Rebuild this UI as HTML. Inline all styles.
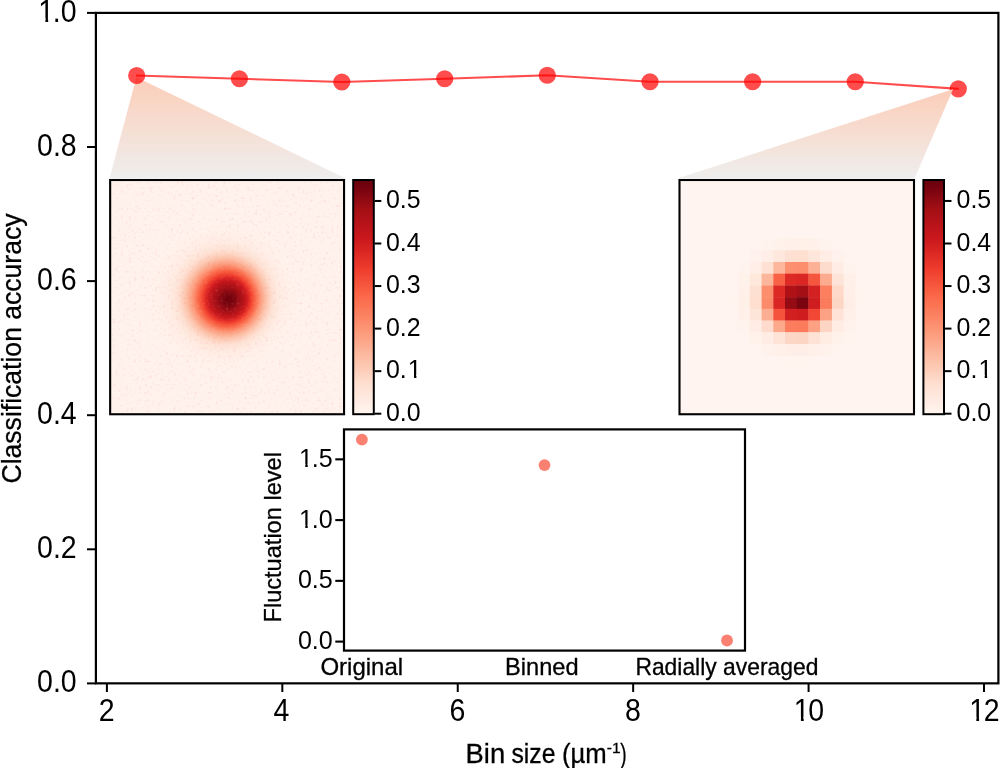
<!DOCTYPE html>
<html lang="en"><head><meta charset="utf-8"><title>Classification accuracy vs bin size</title>
<style>html,body{margin:0;padding:0;background:#fff;}body{width:1000px;height:768px;overflow:hidden;}svg{display:block;}text{font-family:"Liberation Sans",sans-serif;fill:#000;}.lb{stroke:#000;stroke-width:0.3px;}</style></head><body>
<svg width="1000" height="768" viewBox="0 0 1000 768">
<defs>
<linearGradient id="fg1" x1="0" y1="76" x2="0" y2="178" gradientUnits="userSpaceOnUse"><stop offset="0" stop-color="#fbcdb9"/><stop offset="0.45" stop-color="#f7dccf"/><stop offset="1" stop-color="#eeeeee"/></linearGradient>
<linearGradient id="fg2" x1="0" y1="89" x2="0" y2="178" gradientUnits="userSpaceOnUse"><stop offset="0" stop-color="#fbcdb9"/><stop offset="0.45" stop-color="#f7dccf"/><stop offset="1" stop-color="#eeeeee"/></linearGradient>
<linearGradient id="cb" x1="0" y1="1" x2="0" y2="0"><stop offset="0.0000" stop-color="#fff5f0"/><stop offset="0.0312" stop-color="#fff0e8"/><stop offset="0.0625" stop-color="#feeae1"/><stop offset="0.0938" stop-color="#fee5d9"/><stop offset="0.1250" stop-color="#fee0d2"/><stop offset="0.1562" stop-color="#fdd7c6"/><stop offset="0.1875" stop-color="#fdcdb9"/><stop offset="0.2188" stop-color="#fcc4ad"/><stop offset="0.2500" stop-color="#fcbba1"/><stop offset="0.2812" stop-color="#fcb095"/><stop offset="0.3125" stop-color="#fca689"/><stop offset="0.3438" stop-color="#fc9c7d"/><stop offset="0.3750" stop-color="#fc9272"/><stop offset="0.4062" stop-color="#fc8767"/><stop offset="0.4375" stop-color="#fb7d5d"/><stop offset="0.4688" stop-color="#fb7353"/><stop offset="0.5000" stop-color="#fb694a"/><stop offset="0.5312" stop-color="#f85d42"/><stop offset="0.5625" stop-color="#f5523a"/><stop offset="0.5938" stop-color="#f24633"/><stop offset="0.6250" stop-color="#ee3a2c"/><stop offset="0.6562" stop-color="#e53228"/><stop offset="0.6875" stop-color="#dc2924"/><stop offset="0.7188" stop-color="#d32020"/><stop offset="0.7500" stop-color="#ca181d"/><stop offset="0.7812" stop-color="#c1161b"/><stop offset="0.8125" stop-color="#b71319"/><stop offset="0.8438" stop-color="#ad1117"/><stop offset="0.8750" stop-color="#a30f15"/><stop offset="0.9062" stop-color="#940b13"/><stop offset="0.9375" stop-color="#840711"/><stop offset="0.9688" stop-color="#75030f"/><stop offset="1.0000" stop-color="#67000d"/></linearGradient>
<radialGradient id="hm" cx="223" cy="296.2" fx="229" fy="300" r="76" gradientUnits="userSpaceOnUse"><stop offset="0.0000" stop-color="#6d010e"/><stop offset="0.0263" stop-color="#71020e"/><stop offset="0.0526" stop-color="#77040f"/><stop offset="0.0789" stop-color="#7e0610"/><stop offset="0.1053" stop-color="#8a0812"/><stop offset="0.1316" stop-color="#960b13"/><stop offset="0.1579" stop-color="#a30f15"/><stop offset="0.1842" stop-color="#ac1117"/><stop offset="0.2105" stop-color="#b81419"/><stop offset="0.2368" stop-color="#c4161c"/><stop offset="0.2632" stop-color="#d21f20"/><stop offset="0.2895" stop-color="#e12d26"/><stop offset="0.3158" stop-color="#f03d2d"/><stop offset="0.3421" stop-color="#f5523a"/><stop offset="0.3684" stop-color="#f96346"/><stop offset="0.3947" stop-color="#fb7656"/><stop offset="0.4211" stop-color="#fc8969"/><stop offset="0.4474" stop-color="#fc9b7c"/><stop offset="0.4737" stop-color="#fca78b"/><stop offset="0.5000" stop-color="#fcb69b"/><stop offset="0.5263" stop-color="#fcc2aa"/><stop offset="0.5526" stop-color="#fdcbb6"/><stop offset="0.5789" stop-color="#fdd4c2"/><stop offset="0.6053" stop-color="#fedccd"/><stop offset="0.6316" stop-color="#fee2d5"/><stop offset="0.6579" stop-color="#fee5d9"/><stop offset="0.6842" stop-color="#fee8dd"/><stop offset="0.7105" stop-color="#feeae1"/><stop offset="0.7368" stop-color="#ffece3"/><stop offset="0.7632" stop-color="#ffede5"/><stop offset="0.7895" stop-color="#ffeee7"/><stop offset="0.8158" stop-color="#ffefe8"/><stop offset="0.8421" stop-color="#fff0e9"/><stop offset="0.8684" stop-color="#fff1ea"/><stop offset="0.8947" stop-color="#fff2eb"/><stop offset="0.9211" stop-color="#fff2eb"/><stop offset="0.9474" stop-color="#fff2ec"/><stop offset="0.9737" stop-color="#fff2ec"/><stop offset="1.0000" stop-color="#fff2ec"/></radialGradient>
<filter id="nz" x="0" y="0" width="100%" height="100%" color-interpolation-filters="sRGB"><feTurbulence type="fractalNoise" baseFrequency="0.38" numOctaves="1" seed="7" result="t"/><feColorMatrix in="t" type="matrix" values="0 0 0 0 0.9  0 0 0 0 0.25  0 0 0 0 0.2  0.4 0 0 0 -0.225"/></filter>
<filter id="nw" x="0" y="0" width="100%" height="100%" color-interpolation-filters="sRGB"><feTurbulence type="fractalNoise" baseFrequency="0.38" numOctaves="1" seed="23" result="t"/><feColorMatrix in="t" type="matrix" values="0 0 0 0 1  0 0 0 0 0.96  0 0 0 0 0.94  0 0.4 0 0 -0.225"/></filter>
</defs>
<rect width="1000" height="768" fill="#fff"/>
<polygon points="136.4,77.3 109.6,178 344.8,178" fill="url(#fg1)"/>
<polyline points="135.9,75.5 239.4,78.75 341.8,82 444.7,78.75 547.25,75.25 650,81.75 752.6,81.75 855.25,81.75 958.8,88.9" fill="none" stroke="#ff0000" stroke-opacity="0.7" stroke-width="2.1"/>
<circle cx="136.7" cy="75.5" r="8.6" fill="#ff0000" fill-opacity="0.7"/>
<circle cx="239.4" cy="78.75" r="8.6" fill="#ff0000" fill-opacity="0.7"/>
<circle cx="341.8" cy="82" r="8.6" fill="#ff0000" fill-opacity="0.7"/>
<circle cx="444.7" cy="78.75" r="8.6" fill="#ff0000" fill-opacity="0.7"/>
<circle cx="547.25" cy="75.25" r="8.6" fill="#ff0000" fill-opacity="0.7"/>
<circle cx="650" cy="81.75" r="8.6" fill="#ff0000" fill-opacity="0.7"/>
<circle cx="752.6" cy="81.75" r="8.6" fill="#ff0000" fill-opacity="0.7"/>
<circle cx="855.25" cy="81.75" r="8.6" fill="#ff0000" fill-opacity="0.7"/>
<circle cx="958.3" cy="88.9" r="8.6" fill="#ff0000" fill-opacity="0.7"/>
<polygon points="953,89.2 679,178 914.8,178" fill="url(#fg2)"/>
<rect x="110.15" y="180" width="233.9" height="234.25" fill="url(#hm)"/>
<rect x="110.15" y="180" width="233.9" height="234.25" filter="url(#nz)"/>
<rect x="110.15" y="180" width="233.9" height="234.25" filter="url(#nw)"/>
<rect x="110.15" y="180" width="233.9" height="234.25" fill="none" stroke="#000" stroke-width="2.1"/>
<rect x="679.5" y="180" width="234.5" height="234.25" fill="#fff4ef"/>
<rect x="761.58" y="238.56" width="12.03" height="12.01" fill="#fff3ed"/>
<rect x="773.30" y="238.56" width="12.03" height="12.01" fill="#fff2eb"/>
<rect x="785.02" y="238.56" width="12.03" height="12.01" fill="#fff0e9"/>
<rect x="796.75" y="238.56" width="12.03" height="12.01" fill="#fff0e8"/>
<rect x="808.48" y="238.56" width="12.03" height="12.01" fill="#fff1ea"/>
<rect x="820.20" y="238.56" width="12.03" height="12.01" fill="#fff3ed"/>
<rect x="749.85" y="250.28" width="12.03" height="12.01" fill="#fff2ec"/>
<rect x="761.58" y="250.28" width="12.03" height="12.01" fill="#ffeee7"/>
<rect x="773.30" y="250.28" width="12.03" height="12.01" fill="#fee7dc"/>
<rect x="785.02" y="250.28" width="12.03" height="12.01" fill="#fee0d2"/>
<rect x="796.75" y="250.28" width="12.03" height="12.01" fill="#fedfd0"/>
<rect x="808.48" y="250.28" width="12.03" height="12.01" fill="#fee6da"/>
<rect x="820.20" y="250.28" width="12.03" height="12.01" fill="#ffede5"/>
<rect x="831.92" y="250.28" width="12.03" height="12.01" fill="#fff2ec"/>
<rect x="738.12" y="261.99" width="12.03" height="12.01" fill="#fff3ed"/>
<rect x="749.85" y="261.99" width="12.03" height="12.01" fill="#ffeee7"/>
<rect x="761.58" y="261.99" width="12.03" height="12.01" fill="#fee1d3"/>
<rect x="773.30" y="261.99" width="12.03" height="12.01" fill="#fcb79c"/>
<rect x="785.02" y="261.99" width="12.03" height="12.01" fill="#fc8f6f"/>
<rect x="796.75" y="261.99" width="12.03" height="12.01" fill="#fc8d6d"/>
<rect x="808.48" y="261.99" width="12.03" height="12.01" fill="#fcb095"/>
<rect x="820.20" y="261.99" width="12.03" height="12.01" fill="#fedccd"/>
<rect x="831.92" y="261.99" width="12.03" height="12.01" fill="#ffede5"/>
<rect x="843.65" y="261.99" width="12.03" height="12.01" fill="#fff3ed"/>
<rect x="738.12" y="273.70" width="12.03" height="12.01" fill="#fff2eb"/>
<rect x="749.85" y="273.70" width="12.03" height="12.01" fill="#fee7db"/>
<rect x="761.58" y="273.70" width="12.03" height="12.01" fill="#fcb69b"/>
<rect x="773.30" y="273.70" width="12.03" height="12.01" fill="#f96245"/>
<rect x="785.02" y="273.70" width="12.03" height="12.01" fill="#dd2a25"/>
<rect x="796.75" y="273.70" width="12.03" height="12.01" fill="#da2723"/>
<rect x="808.48" y="273.70" width="12.03" height="12.01" fill="#f6563d"/>
<rect x="820.20" y="273.70" width="12.03" height="12.01" fill="#fcab8f"/>
<rect x="831.92" y="273.70" width="12.03" height="12.01" fill="#fee4d8"/>
<rect x="843.65" y="273.70" width="12.03" height="12.01" fill="#fff1ea"/>
<rect x="738.12" y="285.41" width="12.03" height="12.01" fill="#fff0e9"/>
<rect x="749.85" y="285.41" width="12.03" height="12.01" fill="#fee0d2"/>
<rect x="761.58" y="285.41" width="12.03" height="12.01" fill="#fc8e6e"/>
<rect x="773.30" y="285.41" width="12.03" height="12.01" fill="#dc2924"/>
<rect x="785.02" y="285.41" width="12.03" height="12.01" fill="#af1117"/>
<rect x="796.75" y="285.41" width="12.03" height="12.01" fill="#a30f15"/>
<rect x="808.48" y="285.41" width="12.03" height="12.01" fill="#d32020"/>
<rect x="820.20" y="285.41" width="12.03" height="12.01" fill="#fc8060"/>
<rect x="831.92" y="285.41" width="12.03" height="12.01" fill="#fed9c9"/>
<rect x="843.65" y="285.41" width="12.03" height="12.01" fill="#ffefe8"/>
<rect x="855.38" y="285.41" width="12.03" height="12.01" fill="#fff4ee"/>
<rect x="726.40" y="297.12" width="12.03" height="12.01" fill="#fff4ee"/>
<rect x="738.12" y="297.12" width="12.03" height="12.01" fill="#fff0e8"/>
<rect x="749.85" y="297.12" width="12.03" height="12.01" fill="#fedfd0"/>
<rect x="761.58" y="297.12" width="12.03" height="12.01" fill="#fc8b6b"/>
<rect x="773.30" y="297.12" width="12.03" height="12.01" fill="#d92523"/>
<rect x="785.02" y="297.12" width="12.03" height="12.01" fill="#940b13"/>
<rect x="796.75" y="297.12" width="12.03" height="12.01" fill="#7a0510"/>
<rect x="808.48" y="297.12" width="12.03" height="12.01" fill="#cf1c1f"/>
<rect x="820.20" y="297.12" width="12.03" height="12.01" fill="#fb7c5c"/>
<rect x="831.92" y="297.12" width="12.03" height="12.01" fill="#fdd7c6"/>
<rect x="843.65" y="297.12" width="12.03" height="12.01" fill="#ffeee7"/>
<rect x="855.38" y="297.12" width="12.03" height="12.01" fill="#fff4ee"/>
<rect x="738.12" y="308.84" width="12.03" height="12.01" fill="#fff1ea"/>
<rect x="749.85" y="308.84" width="12.03" height="12.01" fill="#fee5d9"/>
<rect x="761.58" y="308.84" width="12.03" height="12.01" fill="#fcae92"/>
<rect x="773.30" y="308.84" width="12.03" height="12.01" fill="#f5533b"/>
<rect x="785.02" y="308.84" width="12.03" height="12.01" fill="#d21f20"/>
<rect x="796.75" y="308.84" width="12.03" height="12.01" fill="#cf1c1f"/>
<rect x="808.48" y="308.84" width="12.03" height="12.01" fill="#f24734"/>
<rect x="820.20" y="308.84" width="12.03" height="12.01" fill="#fca183"/>
<rect x="831.92" y="308.84" width="12.03" height="12.01" fill="#fee3d6"/>
<rect x="843.65" y="308.84" width="12.03" height="12.01" fill="#fff0e9"/>
<rect x="738.12" y="320.55" width="12.03" height="12.01" fill="#fff3ed"/>
<rect x="749.85" y="320.55" width="12.03" height="12.01" fill="#ffede5"/>
<rect x="761.58" y="320.55" width="12.03" height="12.01" fill="#fedbcc"/>
<rect x="773.30" y="320.55" width="12.03" height="12.01" fill="#fca98c"/>
<rect x="785.02" y="320.55" width="12.03" height="12.01" fill="#fb7d5d"/>
<rect x="796.75" y="320.55" width="12.03" height="12.01" fill="#fb7b5b"/>
<rect x="808.48" y="320.55" width="12.03" height="12.01" fill="#fca183"/>
<rect x="820.20" y="320.55" width="12.03" height="12.01" fill="#fdd5c4"/>
<rect x="831.92" y="320.55" width="12.03" height="12.01" fill="#ffece3"/>
<rect x="843.65" y="320.55" width="12.03" height="12.01" fill="#fff2ec"/>
<rect x="749.85" y="332.26" width="12.03" height="12.01" fill="#fff2eb"/>
<rect x="761.58" y="332.26" width="12.03" height="12.01" fill="#ffece4"/>
<rect x="773.30" y="332.26" width="12.03" height="12.01" fill="#fee3d7"/>
<rect x="785.02" y="332.26" width="12.03" height="12.01" fill="#fdd7c6"/>
<rect x="796.75" y="332.26" width="12.03" height="12.01" fill="#fdd5c4"/>
<rect x="808.48" y="332.26" width="12.03" height="12.01" fill="#fee2d5"/>
<rect x="820.20" y="332.26" width="12.03" height="12.01" fill="#ffece3"/>
<rect x="831.92" y="332.26" width="12.03" height="12.01" fill="#fff2eb"/>
<rect x="843.65" y="332.26" width="12.03" height="12.01" fill="#fff4ee"/>
<rect x="761.58" y="343.98" width="12.03" height="12.01" fill="#fff2ec"/>
<rect x="773.30" y="343.98" width="12.03" height="12.01" fill="#fff0e9"/>
<rect x="785.02" y="343.98" width="12.03" height="12.01" fill="#ffeee7"/>
<rect x="796.75" y="343.98" width="12.03" height="12.01" fill="#ffeee7"/>
<rect x="808.48" y="343.98" width="12.03" height="12.01" fill="#fff0e9"/>
<rect x="820.20" y="343.98" width="12.03" height="12.01" fill="#fff2ec"/>
<rect x="831.92" y="343.98" width="12.03" height="12.01" fill="#fff4ee"/>
<rect x="785.02" y="355.69" width="12.03" height="12.01" fill="#fff4ee"/>
<rect x="796.75" y="355.69" width="12.03" height="12.01" fill="#fff4ee"/>
<rect x="679.5" y="180" width="234.5" height="234.25" fill="none" stroke="#000" stroke-width="2.1"/>
<rect x="353.2" y="180" width="20.6" height="234.2" fill="url(#cb)" stroke="#000" stroke-width="2"/>
<line x1="374.6" y1="413.7" x2="381.3" y2="413.7" stroke="#000" stroke-width="2"/>
<text transform="translate(385.90,420.8) scale(1,1.05)" font-size="24.9">0.0</text>
<line x1="374.6" y1="371.15" x2="381.3" y2="371.15" stroke="#000" stroke-width="2"/>
<text transform="translate(385.90,378.25) scale(1,1.05)" font-size="24.9"><tspan x="0.00">0.</tspan><tspan x="21.94">1</tspan></text>
<line x1="374.6" y1="328.6" x2="381.3" y2="328.6" stroke="#000" stroke-width="2"/>
<text transform="translate(385.90,335.7) scale(1,1.05)" font-size="24.9">0.2</text>
<line x1="374.6" y1="286.05" x2="381.3" y2="286.05" stroke="#000" stroke-width="2"/>
<text transform="translate(385.90,293.15) scale(1,1.05)" font-size="24.9">0.3</text>
<line x1="374.6" y1="243.5" x2="381.3" y2="243.5" stroke="#000" stroke-width="2"/>
<text transform="translate(385.90,250.6) scale(1,1.05)" font-size="24.9">0.4</text>
<line x1="374.6" y1="200.95" x2="381.3" y2="200.95" stroke="#000" stroke-width="2"/>
<text transform="translate(385.90,208.05) scale(1,1.05)" font-size="24.9">0.5</text>
<rect x="923.4" y="180" width="20.6" height="234.2" fill="url(#cb)" stroke="#000" stroke-width="2"/>
<line x1="944.8" y1="413.7" x2="951.5" y2="413.7" stroke="#000" stroke-width="2"/>
<text transform="translate(956.60,420.8) scale(1,1.05)" font-size="24.9">0.0</text>
<line x1="944.8" y1="371.15" x2="951.5" y2="371.15" stroke="#000" stroke-width="2"/>
<text transform="translate(956.60,378.25) scale(1,1.05)" font-size="24.9"><tspan x="0.00">0.</tspan><tspan x="21.94">1</tspan></text>
<line x1="944.8" y1="328.6" x2="951.5" y2="328.6" stroke="#000" stroke-width="2"/>
<text transform="translate(956.60,335.7) scale(1,1.05)" font-size="24.9">0.2</text>
<line x1="944.8" y1="286.05" x2="951.5" y2="286.05" stroke="#000" stroke-width="2"/>
<text transform="translate(956.60,293.15) scale(1,1.05)" font-size="24.9">0.3</text>
<line x1="944.8" y1="243.5" x2="951.5" y2="243.5" stroke="#000" stroke-width="2"/>
<text transform="translate(956.60,250.6) scale(1,1.05)" font-size="24.9">0.4</text>
<line x1="944.8" y1="200.95" x2="951.5" y2="200.95" stroke="#000" stroke-width="2"/>
<text transform="translate(956.60,208.05) scale(1,1.05)" font-size="24.9">0.5</text>
<rect x="95.9" y="12.9" width="902.5" height="670.45" fill="none" stroke="#000" stroke-width="2.2"/>
<line x1="87" y1="683.4" x2="95.9" y2="683.4" stroke="#000" stroke-width="2"/>
<text transform="translate(37.03,692.1) scale(1,1.08)" font-size="28.5">0.0</text>
<line x1="87" y1="549.3" x2="95.9" y2="549.3" stroke="#000" stroke-width="2"/>
<text transform="translate(37.03,558) scale(1,1.08)" font-size="28.5">0.2</text>
<line x1="87" y1="415.2" x2="95.9" y2="415.2" stroke="#000" stroke-width="2"/>
<text transform="translate(37.03,423.9) scale(1,1.08)" font-size="28.5">0.4</text>
<line x1="87" y1="281.1" x2="95.9" y2="281.1" stroke="#000" stroke-width="2"/>
<text transform="translate(37.03,289.8) scale(1,1.08)" font-size="28.5">0.6</text>
<line x1="87" y1="147" x2="95.9" y2="147" stroke="#000" stroke-width="2"/>
<text transform="translate(37.03,155.7) scale(1,1.08)" font-size="28.5">0.8</text>
<line x1="87" y1="12.9" x2="95.9" y2="12.9" stroke="#000" stroke-width="2"/>
<text transform="translate(37.03,21.6) scale(1,1.08)" font-size="28.5"><tspan x="1.34">1</tspan><tspan x="15.85">.0</tspan></text>
<line x1="106.9" y1="683.35" x2="106.9" y2="692" stroke="#000" stroke-width="2"/>
<text transform="translate(98.77,720.8) scale(1,1.13)" font-size="28.5">2</text>
<line x1="282.32" y1="683.35" x2="282.32" y2="692" stroke="#000" stroke-width="2"/>
<text transform="translate(273.59,720.8) scale(1,1.13)" font-size="28.5">4</text>
<line x1="457.74" y1="683.35" x2="457.74" y2="692" stroke="#000" stroke-width="2"/>
<text transform="translate(449.61,720.8) scale(1,1.13)" font-size="28.5">6</text>
<line x1="633.16" y1="683.35" x2="633.16" y2="692" stroke="#000" stroke-width="2"/>
<text transform="translate(625.03,720.8) scale(1,1.13)" font-size="28.5">8</text>
<line x1="808.58" y1="683.35" x2="808.58" y2="692" stroke="#000" stroke-width="2"/>
<text transform="translate(792.53,720.8) scale(1,1.13)" font-size="28.5"><tspan x="1.34">1</tspan><tspan x="15.85">0</tspan></text>
<line x1="984" y1="683.35" x2="984" y2="692" stroke="#000" stroke-width="2"/>
<text transform="translate(967.95,720.8) scale(1,1.13)" font-size="28.5"><tspan x="1.34">1</tspan><tspan x="15.85">2</tspan></text>
<text transform="translate(21.1,483.5) rotate(-90)" font-size="27" class="lb" textLength="270" lengthAdjust="spacingAndGlyphs">Classification accuracy</text>
<text y="762.6" font-size="27" class="lb"><tspan x="465.6" textLength="39.6" lengthAdjust="spacingAndGlyphs">Bin</tspan> <tspan x="511.4" textLength="44.1" lengthAdjust="spacingAndGlyphs">size</tspan> <tspan x="561.9" textLength="44.8" lengthAdjust="spacingAndGlyphs">(µm</tspan><tspan x="606.8" dy="-9.6" font-size="15.5">-1</tspan><tspan x="620.2" dy="9.6" textLength="6.4" lengthAdjust="spacingAndGlyphs">)</tspan></text>
<rect x="344" y="429.4" width="401" height="221.2" fill="#fff" stroke="#000" stroke-width="2.2"/>
<line x1="335.3" y1="641.6" x2="343.5" y2="641.6" stroke="#000" stroke-width="2.1"/>
<text transform="translate(297.91,649.2) scale(1,1.05)" font-size="25.1">0.0</text>
<line x1="335.3" y1="580.85" x2="343.5" y2="580.85" stroke="#000" stroke-width="2.1"/>
<text transform="translate(297.91,588.45) scale(1,1.05)" font-size="25.1">0.5</text>
<line x1="335.3" y1="520.1" x2="343.5" y2="520.1" stroke="#000" stroke-width="2.1"/>
<text transform="translate(297.91,527.7) scale(1,1.05)" font-size="25.1"><tspan x="1.18">1</tspan><tspan x="13.96">.0</tspan></text>
<line x1="335.3" y1="459.35" x2="343.5" y2="459.35" stroke="#000" stroke-width="2.1"/>
<text transform="translate(297.91,466.95) scale(1,1.05)" font-size="25.1"><tspan x="1.18">1</tspan><tspan x="13.96">.5</tspan></text>
<circle cx="361.9" cy="439.6" r="5.9" fill="#fa8072"/>
<circle cx="544.5" cy="465.1" r="5.9" fill="#fa8072"/>
<circle cx="727" cy="640.5" r="5.9" fill="#fa8072"/>
<text transform="translate(281,622.5) rotate(-90)" font-size="24" class="lb" textLength="170.4" lengthAdjust="spacingAndGlyphs">Fluctuation level</text>
<text x="320.4" y="674.5" font-size="24" class="lb" textLength="82.8" lengthAdjust="spacingAndGlyphs">Original</text>
<text x="505.1" y="674.5" font-size="24" class="lb" textLength="73.5" lengthAdjust="spacingAndGlyphs">Binned</text>
<text x="635.4" y="674.5" font-size="24" class="lb" textLength="183" lengthAdjust="spacingAndGlyphs">Radially averaged</text>
<rect x="408.21" y="375" width="5.78" height="4.05" fill="#fff"/><rect x="416.40" y="375" width="4.98" height="4.05" fill="#fff"/><rect x="978.91" y="375" width="5.78" height="4.05" fill="#fff"/><rect x="987.10" y="375" width="4.98" height="4.05" fill="#fff"/><rect x="38.80" y="18" width="6.61" height="4.40" fill="#fff"/><rect x="48.17" y="18" width="5.70" height="4.40" fill="#fff"/><rect x="794.30" y="717" width="6.61" height="4.60" fill="#fff"/><rect x="803.67" y="717" width="5.70" height="4.60" fill="#fff"/><rect x="969.72" y="717" width="6.61" height="4.60" fill="#fff"/><rect x="979.09" y="717" width="5.70" height="4.60" fill="#fff"/><rect x="299.46" y="525" width="5.82" height="3.50" fill="#fff"/><rect x="307.72" y="525" width="5.02" height="3.50" fill="#fff"/><rect x="299.46" y="464" width="5.82" height="3.75" fill="#fff"/><rect x="307.72" y="464" width="5.02" height="3.75" fill="#fff"/>
</svg></body></html>
